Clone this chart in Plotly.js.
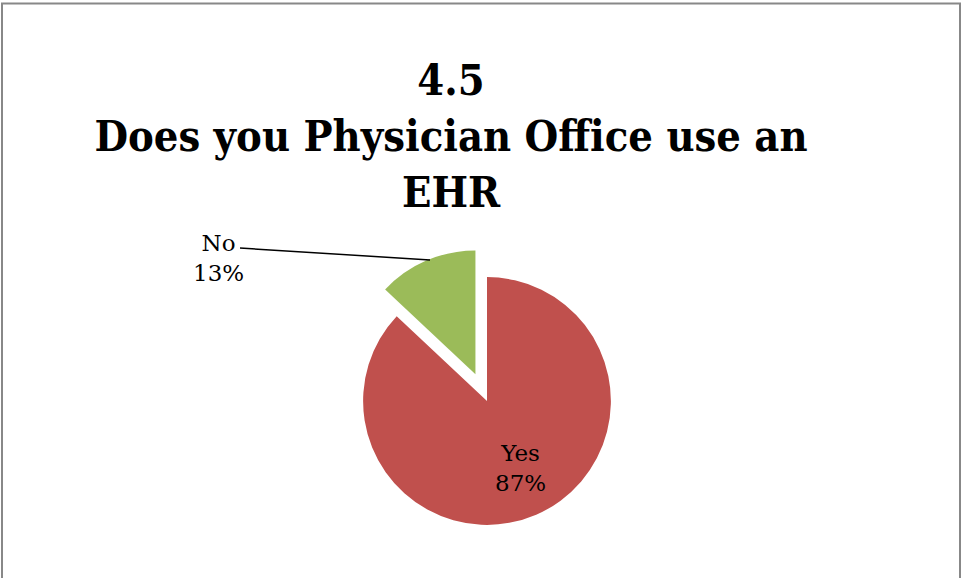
<!DOCTYPE html>
<html>
<head>
<meta charset="utf-8">
<script src="https://cdn.plot.ly/plotly-3.0.1.min.js"></script>
<style>
html,body{margin:0;padding:0;background:#fff;}
#chart{width:962px;height:578px;}
</style>
</head>
<body>
<div id="chart"></div>
<script>
const labels = ['Yes', 'No'];
const values = [87, 13];
const colors = ['#C0504D', '#9BBB59'];
const pulls = [0, 0.235];
const titleLines = ['4.5', 'Does you Physician Office use an', 'EHR'];

const total = values.reduce((a, b) => a + b, 0);
const pct = values.map(v => Math.round(v / total * 100) + '%');

const serif = 'DejaVu Serif, Liberation Serif, serif';

const trace = {
  type: 'pie',
  labels: labels,
  values: values,
  sort: false,
  direction: 'clockwise',
  rotation: 0,
  pull: pulls,
  marker: {colors: colors, line: {width: 0}},
  textinfo: 'none',
  hoverinfo: 'label+percent',
  domain: {x: [334/962, 640/962], y: [24/578, 330/578]},
  showlegend: false
};

const layout = {
  width: 962,
  height: 578,
  margin: {l: 0, r: 0, t: 0, b: 0},
  paper_bgcolor: '#ffffff',
  plot_bgcolor: '#ffffff',
  title: {
    text: '<b>' + titleLines.join('<br>') + '</b>',
    x: 451/962, xanchor: 'center',
    y: 1 - 95/578, yanchor: 'top',
    font: {family: 'DejaVu Serif Condensed, DejaVu Serif, serif', size: 43, color: '#000'}
  },
  shapes: [
    {type: 'rect', xref: 'paper', yref: 'paper',
     x0: 2/962, x1: 960/962, y0: -0.05, y1: 1 - 3.5/578,
     line: {color: '#888888', width: 2}},
    {type: 'line', xref: 'paper', yref: 'paper',
     x0: 240/962, y0: 1 - 248/578, x1: 430/962, y1: 1 - 260/578,
     line: {color: '#000', width: 1.5}}
  ],
  annotations: [
    {xref: 'paper', yref: 'paper', x: 218/962, y: 1 - 258/578,
     xanchor: 'center', yanchor: 'middle', showarrow: false,
     text: labels[1] + '<br>' + pct[1],
     font: {family: serif, size: 23, color: '#000'}},
    {xref: 'paper', yref: 'paper', x: 520/962, y: 1 - 468/578,
     xanchor: 'center', yanchor: 'middle', showarrow: false,
     text: labels[0] + '<br>' + pct[0],
     font: {family: serif, size: 23, color: '#000'}}
  ]
};

Plotly.newPlot('chart', [trace], layout, {displayModeBar: false, staticPlot: true});
</script>
</body>
</html>
